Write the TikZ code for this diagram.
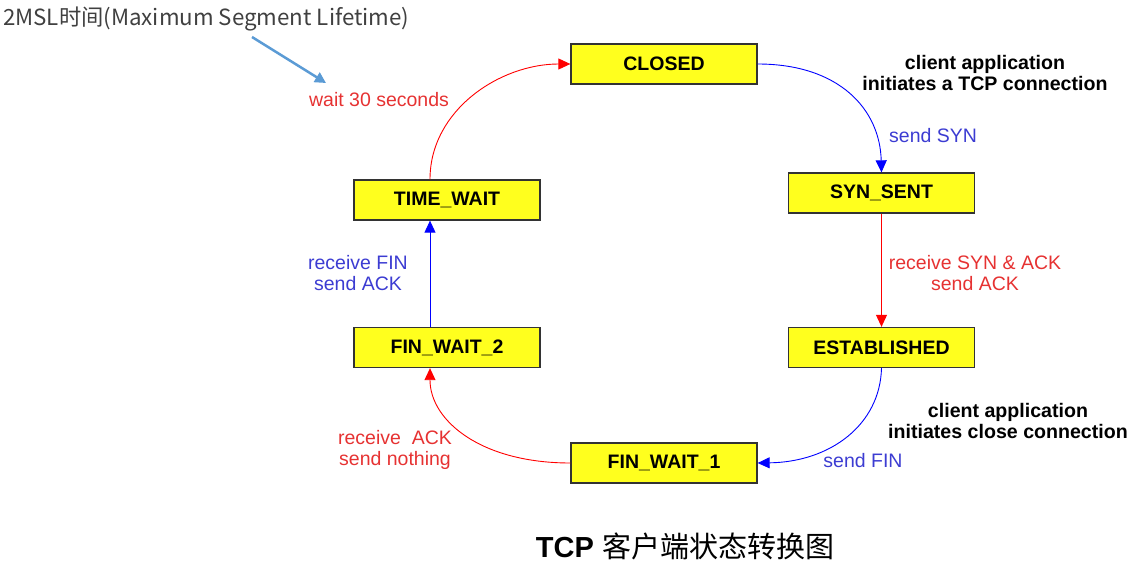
\documentclass[tikz,border=0pt]{standalone}
\usepackage{fontspec}
\setmainfont{Liberation Sans}
\newfontfamily\cjk{Noto Sans CJK SC}
\usetikzlibrary{arrows.meta}
\definecolor{boxyellow}{RGB}{255,255,30}
\definecolor{lblred}{RGB}{230,50,50}
\definecolor{lblblue}{RGB}{60,60,210}
\definecolor{annblue}{RGB}{91,155,213}
\definecolor{anngray}{RGB}{64,64,64}
\tikzset{
  state/.style={draw=black!80,line width=1.3pt,fill=boxyellow,minimum width=186pt,minimum height=40pt,inner sep=0pt,font=\fontsize{19.5}{20}\selectfont\bfseries},
  redarr/.style={draw=red,line width=0.9pt,-{Triangle[length=12pt,width=11pt]}},
  bluearr/.style={draw=blue,line width=0.9pt,-{Triangle[length=12pt,width=11pt]}},
  redlbl/.style={text=lblred,font=\fontsize{19.5}{21}\selectfont,align=center,inner sep=0pt},
  bluelbl/.style={text=lblblue,font=\fontsize{19.5}{21}\selectfont,align=center,inner sep=0pt},
  blklbl/.style={text=black,font=\fontsize{19.6}{21.5}\selectfont\bfseries,align=center,inner sep=0pt},
}
\begin{document}
\begin{tikzpicture}[x=1pt,y=-1pt]
\useasboundingbox (0,0) rectangle (1132,564);
% states
\node[state] (closed) at (664,64) {CLOSED};
\node[state] (synsent) at (881.5,193) {SYN\_SENT};
\node[state] (estab) at (881.5,347.5) {ESTABLISHED};
\node[state] (fw1) at (664,463) {FIN\_WAIT\_1};
\node[state] (fw2) at (447,347.5) {FIN\_WAIT\_2};
\node[state] (tw) at (447,200) {TIME\_WAIT};
% transitions
\draw[bluearr] (closed.east) .. controls (840,64) and (880,110) .. (synsent.north);
\draw[redarr] (synsent.south) -- (estab.north);
\draw[bluearr] (estab.south) .. controls (880,425) and (830,462) .. (fw1.east);
\draw[redarr] (fw1.west) .. controls (480,463) and (430,420) .. ([xshift=-17pt]fw2.south);
\draw[bluearr] ([xshift=-17pt]fw2.north) -- ([xshift=-17pt]tw.south);
\draw[redarr] ([xshift=-17pt]tw.north) .. controls (430,110) and (500,64) .. (closed.west);
% labels
\node[bluelbl,anchor=west] (lsyn) at (889,136) {send SYN};
\node[blklbl] (lconn) at (985,73) {client application\\initiates a TCP connection};
\node[redlbl] (lsynack) at (975,273) {receive SYN \& ACK\\send ACK};
\node[blklbl] (lclose) at (1008,421) {client application\\initiates close connection};
\node[bluelbl] (lfin) at (863,461) {send FIN};
\node[redlbl] (lack) at (395,450) {receive\ \ ACK\\send nothing};
\node[bluelbl] (lrfin) at (358,273) {receive FIN\\send ACK};
\node[redlbl] (lwait) at (379,100) {wait 30 seconds};
% annotation
\node[anchor=west,inner sep=0pt,text=anngray,font=\cjk\fontsize{22.3}{24}\selectfont] (msl) at (3,19) {2MSL时间(Maximum Segment Lifetime)};
\coordinate (annstart) at (252,37);
\coordinate (annend) at (326,83);
\draw[annblue,line width=2.5pt,-{Triangle[length=11pt,width=11pt]}] (annstart) -- (annend);
% title
\node[inner sep=0pt,font=\fontsize{29}{30}\selectfont] (title) at (685,546) {\textbf{TCP} {\cjk 客户端状态转换图}};
\end{tikzpicture}
\end{document}
